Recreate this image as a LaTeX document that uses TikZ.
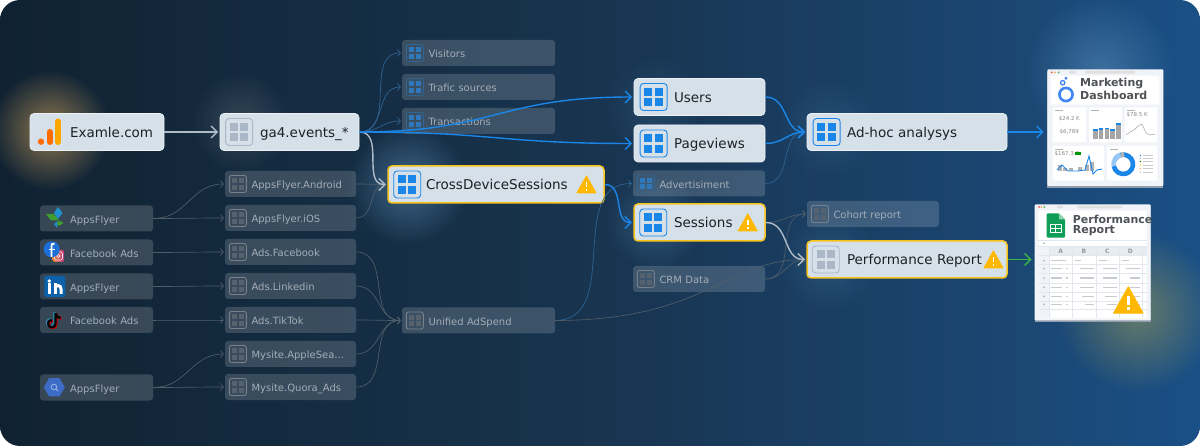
\documentclass[tikz,border=0pt]{standalone}
\usepackage{fontspec}
\setmainfont{DejaVu Sans}
\usetikzlibrary{arrows.meta,fadings}
\definecolor{bga}{HTML}{0A1118}
\definecolor{bgb}{HTML}{0D1C29}
\definecolor{bgc}{HTML}{13283B}
\definecolor{bgd}{HTML}{18344F}
\definecolor{bge}{HTML}{1B4672}
\definecolor{bgf}{HTML}{185A9A}
\definecolor{bgg}{HTML}{1466B2}
\definecolor{boxfill}{HTML}{D5E0E9}
\definecolor{boxedge}{HTML}{EDF2F6}
\definecolor{boxtext}{HTML}{1D2126}
\definecolor{warnedge}{HTML}{F6C21C}
\definecolor{warnfill}{HTML}{FFB800}
\definecolor{dimtext}{HTML}{A3ADB7}
\definecolor{flowblue}{HTML}{1A86E8}
\definecolor{flowlight}{HTML}{AEBBC9}
\definecolor{wiregray}{HTML}{505E6A}
\definecolor{wireblue}{HTML}{2F6594}
\definecolor{flowgreen}{HTML}{3DB54A}
\definecolor{gridgray}{HTML}{AAB7C6}
\definecolor{griddim}{HTML}{56626D}
\definecolor{griddimb}{HTML}{2F78BC}
\definecolor{glowamber}{HTML}{E0AE60}
\definecolor{glowblue}{HTML}{6FA8D8}
\definecolor{glowsky}{HTML}{7FB4E0}
\definecolor{glowyellow}{HTML}{D8C04A}
\definecolor{thumbbg}{HTML}{F0F3F7}
\definecolor{thumbedge}{HTML}{8F9CAB}
\definecolor{thumbtext}{HTML}{4F5256}
\definecolor{thumbbar}{HTML}{C9CBCE}
\definecolor{thumbhdr}{HTML}{E6ECF2}
\definecolor{thumbside}{HTML}{F0F4F8}
\definecolor{thumbline}{HTML}{E2E8EE}
\definecolor{logoblue}{HTML}{4285F4}
\definecolor{afblue}{HTML}{1F8FCF}
\definecolor{afgreen}{HTML}{3F9C2F}
\definecolor{fbblue}{HTML}{1C6FD6}
\definecolor{igpink}{HTML}{C13584}
\definecolor{igorange}{HTML}{E8873A}
\definecolor{liblue}{HTML}{0B62AA}
\definecolor{gqblue}{HTML}{3C6CC6}
\definecolor{gqlight}{HTML}{9DB9EA}
\definecolor{sheetgreen}{HTML}{0F9D58}
\definecolor{sheetfold}{HTML}{8ED1B1}
\pgfdeclarehorizontalshading{bgshade}{100bp}{color(0bp)=(bga); color(17bp)=(bgb); color(33bp)=(bgc); color(50bp)=(bgd); color(67bp)=(bge); color(83bp)=(bgf); color(100bp)=(bgg)}
\tikzfading[name=glowfade, inner color=transparent!0, outer color=transparent!100]
\tikzset{
	textbox/.style 2 args={text width=#1pt, execute at begin node={\hspace*{#2pt}}},
	bigbox/.style={rectangle, draw=boxedge, fill=boxfill, line width=.7pt, rounded corners=4pt, minimum height=37pt, inner xsep=0pt, inner ysep=0pt, align=left, font=\fontsize{13.5}{16}\selectfont, text=boxtext, text height=12pt, text depth=1.4pt, textbox={#1}{40}},
	warnbox/.style={bigbox=#1, draw=warnedge, line width=1.5pt},
	dimbox/.style={rectangle, fill=white, fill opacity=.16, text opacity=1, rounded corners=3pt, minimum height=26pt, inner xsep=0pt, inner ysep=0pt, align=left, font=\fontsize{10}{12}\selectfont, text=dimtext, text height=10.5pt, text depth=1pt},
	smallbox/.style={dimbox, textbox={#1}{26.5}},
	srcbox/.style={dimbox, textbox={#1}{30}},
	link/.style={out=0, in=180, looseness=1.1},
	wire/.style={draw=wiregray, line width=.65pt, -{Straight Barb[length=3pt,width=7pt]}, shorten >=1pt},
	wireb/.style={wire, draw=wireblue},
	flow/.style={draw=flowblue, line width=1.4pt, -{Straight Barb[length=6pt,width=12pt]}, shorten >=1.5pt},
	flowl/.style={flow, draw=flowlight},
	flowg/.style={flow, draw=flowgreen},
	glow/.style 2 args={fill=#1, fill opacity=#2, path fading=glowfade},
	thumb/.style={fill=white, rounded corners=1pt},
	thumbnum/.style={font=\fontsize{5.5}{6}\selectfont, text=gray!90},
	thumbhead/.style={font=\bfseries\fontsize{11}{12}\selectfont, text=thumbtext, anchor=west, inner sep=0pt},
	pics/gridicon/.style n args={3}{code={
		\draw[draw=#2, line width=.9pt, rounded corners=.25*#1] (-#1,-#1) rectangle (#1,#1);
		\foreach \sx/\sy in {1/1,1/-1,-1/1,-1/-1}
			\fill[#3] ({\sx*.09*#1},{\sy*.09*#1}) rectangle ({\sx*.68*#1},{\sy*.68*#1});
	}},
	pics/bluegrid/.style={gridicon={13.5}{flowblue}{flowblue}},
	pics/graygrid/.style={gridicon={13.5}{gridgray}{gridgray}},
	pics/dimblue/.style={gridicon={8.5}{wireblue}{griddimb}},
	pics/dimgray/.style={gridicon={8.5}{griddim!80}{griddim}},
	pics/warnicon/.style={code={
		\fill[warnfill, draw=warnfill, line width=1pt, line join=round] (0,-8.5) -- (9.5,8.5) -- (-9.5,8.5) -- cycle;
		\fill[white] (-.9,-2.5) rectangle (.9,3);
		\fill[white] (-.9,4.5) rectangle (.9,6.2);
	}},
}
\begin{document}
\begin{tikzpicture}[x=1pt, y=-1pt]
	\useasboundingbox (0,0) rectangle (1200,446);
	\shade[shading=bgshade, rounded corners=20pt] (0,0) rectangle (1200,446);

	% glows behind the boxes
	\fill[glow={glowamber}{.6}] (50,130) circle (60);
	\fill[glow={white}{.14}] (240,122) circle (50);
	\fill[glow={glowblue}{.45}] (408,185) circle (60);
	\fill[glow={glowblue}{.15}] (654,105) circle (50);
	\fill[glow={glowblue}{.28}] (654,222) circle (48);
	\fill[glow={glowblue}{.15}] (828,128) circle (50);
	\fill[glow={glowblue}{.18}] (828,262) circle (50);
	\fill[glow={glowsky}{.35}] (1100,70) circle (75);
	\fill[glow={glowyellow}{.4}] (1138,312) circle (80);

	% main nodes
	\node[bigbox=134] at (97, 132) (examle) {Examle.com};
	\node[bigbox=139] at (289.5, 132) (ga4) {ga4.events\_*};
	\node[bigbox=131] at (699.5, 97) (users) {Users};
	\node[bigbox=131] at (699.5, 143.5) (pageviews) {Pageviews};
	\node[bigbox=200] at (907, 132) (adhoc) {Ad-hoc analysys};
	\node[warnbox=216] at (496, 184.5) (cross) {\hspace*{-2pt}CrossDeviceSessions};
	\node[warnbox=131] at (699.5, 222.5) (sessions) {Sessions};
	\node[warnbox=200] at (907, 259.5) (perf) {Performance Report};

	% faded nodes
	\node[smallbox=153] at (478.5, 53) (visitors) {Visitors};
	\node[smallbox=153] at (478.5, 87) (trafic) {Trafic sources};
	\node[smallbox=153] at (478.5, 121) (transactions) {Transactions};
	\node[smallbox=131] at (290.5, 184) (android) {AppsFlyer.Android};
	\node[smallbox=131] at (290.5, 218) (ios) {AppsFlyer.iOS};
	\node[smallbox=131] at (290.5, 252) (adsfb) {Ads.Facebook};
	\node[smallbox=131] at (290.5, 286) (adsli) {Ads.Linkedin};
	\node[smallbox=131] at (290.5, 320) (adstt) {Ads.TikTok};
	\node[smallbox=131] at (290.5, 354) (apple) {Mysite.AppleSea...};
	\node[smallbox=131] at (290.5, 387) (quora) {Mysite.Quora\_Ads};
	\node[smallbox=153] at (478.5, 320.5) (unified) {Unified AdSpend};
	\node[smallbox=132] at (699, 183.5) (advert) {Advertisiment};
	\node[smallbox=132] at (699, 279) (crm) {CRM Data};
	\node[smallbox=132] at (873, 214) (cohort) {Cohort report};
	\node[srcbox=113] at (96.5, 218.5) (srcaf) {AppsFlyer};
	\node[srcbox=113] at (96.5, 252.5) (srcfb) {Facebook Ads};
	\node[srcbox=113] at (96.5, 286.5) (srcli) {AppsFlyer};
	\node[srcbox=113] at (96.5, 320) (srctt) {Facebook Ads};
	\node[srcbox=113] at (96.5, 387.5) (srcgq) {AppsFlyer};

	% table icons
	\pic at ([xshift=19.5pt]ga4.west) {graygrid};
	\pic at ([xshift=19.5pt]perf.west) {graygrid};
	\pic at ([xshift=20pt]users.west) {bluegrid};
	\pic at ([xshift=20pt]pageviews.west) {bluegrid};
	\pic at ([xshift=20pt]adhoc.west) {bluegrid};
	\pic at ([xshift=20pt]cross.west) {bluegrid};
	\pic at ([xshift=20pt]sessions.west) {bluegrid};
	\foreach \n in {visitors,trafic,transactions,advert}
		\pic at ([xshift=13pt]\n.west) {dimblue};
	\foreach \n in {android,ios,adsfb,adsli,adstt,apple,quora,unified,crm,cohort}
		\pic at ([xshift=13pt]\n.west) {dimgray};

	% warnings
	\pic at ([xshift=-18.3pt]cross.east) {warnicon};
	\pic at ([xshift=-18pt]sessions.east) {warnicon};
	\pic at ([xshift=-14.3pt]perf.east) {warnicon};

	% source logos
	\draw[line width=6pt, line cap=round, draw=orange!85!red] (49.7,132) -- (49.7,142);
	\draw[line width=6pt, line cap=round, draw=orange!70!yellow] (58,121.5) -- (58,142);
	\fill[orange!85!red] (41,141.7) circle (3.2);
	\fill[afblue] (58,207) -- (62.5,213) -- (58,219) -- (54,213) -- cycle;
	\fill[afgreen] (46,214) -- (54,214) -- (59,220.5) -- (51,220.5) -- cycle;
	\fill[afgreen] (59,220.5) -- (63.5,223) -- (59,226) -- (56,224) -- cycle;
	\fill[afblue] (57,221.5) -- (57,228) -- (54,224) -- cycle;
	\shade[left color=igorange, right color=igpink, rounded corners=2.5pt] (52.5,250) rectangle (64.5,262);
	\draw[white!85!igpink, line width=.7pt, rounded corners=1.5pt] (54.5,252) rectangle (62.5,260) (58.5,256) circle (1.6);
	\fill[fbblue] (51.7,249.3) circle (8);
	\draw[white, line width=1.8pt] (54.5,243.5) .. controls (51.5,243) and (51.5,245) .. (51.5,247) -- (51.5,257);
	\draw[white, line width=1.5pt] (49,249.5) -- (54.5,249.5);
	\fill[liblue, rounded corners=1.5pt] (44.3,276) rectangle (65.3,297);
	\fill[white] (47.5,283.5) rectangle (51,294);
	\fill[white] (49.3,281) circle (1.9);
	\fill[white] (53.5,283.5) rectangle (57,294);
	\draw[white, line width=3pt] (55,288.5) .. controls (56,284.5) and (61,284.5) .. (61,289) -- (61,294);
	\foreach \dx/\dy/\c in {-1/-.7/cyan!80!black,1/.7/red!80!black,0/0/black}
		\draw[\c, line width=2.4pt, shift={(\dx,\dy)}] (55.5,313) -- (55.5,323.5) .. controls (55.5,329) and (47.5,328) .. (48,323.5) .. controls (48.5,320) and (51,320) .. (52,320.5) (55.5,313.5) .. controls (56,316) and (58,318) .. (60.5,318);
	\fill[gqblue, shift={(54.3,387.3)}] (0:10.5) -- (60:10.5) -- (120:10.5) -- (180:10.5) -- (240:10.5) -- (300:10.5) -- cycle;
	\draw[gqlight, line width=.8pt] (54,387) circle (2.8) (56,389) -- (58,391);

	% dashboard preview
	\fill[thumbedge] (1047.3,72) rectangle (1163.3,188);
	\fill[thumbbg, rounded corners=1pt] (1047.3,69.3) rectangle (1163.3,186);
	\foreach \cx/\c in {1051.7/red!70, 1055/orange!70, 1058.7/green!60!black!70}
		\fill[\c] (\cx,72.3) circle (1);
	\fill[gray!25, rounded corners=1pt] (1069,71) rectangle (1076,73.6);
	\fill[gray!25, rounded corners=1pt] (1085,71) rectangle (1135,73.6);
	\fill[thumb] (1050.7,75.7) rectangle (1159.3,104.7);
	\draw[logoblue, line width=2.6pt] (1066,94.5) circle (6.6);
	\draw[logoblue, line width=1.3pt] (1062.7,82.7) circle (2.2);
	\fill[logoblue] (1066,78.3) circle (1.6);
	\node[thumbhead] at (1080,84) (dashtitlea) {Marketing};
	\node[thumbhead] at (1080,95.5) (dashtitleb) {Dashboard};
	\foreach \xa/\xb in {1052.7/1086, 1089/1122, 1124.7/1157.3}
		\fill[thumb] (\xa,107.3) rectangle (\xb,142.3);
	\foreach \xa/\xb in {1052.7/1104, 1107/1157.3}
		\fill[thumb] (\xa,146) rectangle (\xb,180.7);
	\foreach \xa/\xb/\yy in {1055/1063/110.5, 1091/1099/110.5, 1127/1135/110.5, 1055/1063/149, 1110/1118/149}
		\fill[gray!60] (\xa,\yy) rectangle (\xb,\yy+.7);
	\node[thumbnum] at (1069.3,118.7) (dashnuma) {\$24.2 K};
	\node[thumbnum] at (1069.3,132.3) (dashnumb) {\$6,789};
	\node[thumbnum, anchor=west, inner sep=0pt] at (1126.5,115) (dashnumc) {\$78.5 K};
	\node[thumbnum, anchor=west, inner sep=0pt] at (1054.5,153.5) (dashnumd) {\$167.3 K};
	\foreach \xa/\ytop in {1093.3/129, 1098.7/128.3, 1104.7/127.7, 1110.3/129, 1116/123.3}{
		\fill[gray!70] (\xa,\ytop) rectangle (\xa+4.7,139);
		\fill[flowblue] (\xa,\ytop) rectangle (\xa+4.7,\ytop+1.6);
	}
	\draw[gray!70, line width=.5pt] (1126,135) -- (1130,132) -- (1134,130) -- (1138,126) -- (1142,124) -- (1146,133) -- (1150,135) -- (1155,134);
	\foreach \xa/\ytop in {1058/165, 1063/168, 1069/168, 1078/167, 1085/165, 1090/162}
		\fill[gray!60] (\xa,\ytop) rectangle (\xa+4,171);
	\draw[flowblue, line width=.9pt] (1057,170) -- (1062,165) -- (1068,171) -- (1078,171) -- (1085,170) -- (1089,156) -- (1093,174) -- (1097,170) -- (1102,169);
	\fill[green!60!black] (1075,152.3) rectangle (1081,155);
	\draw[flowblue, line width=4.6pt] (1123.3,164.3) ++(-150:9.7) arc[start angle=-150, end angle=170, radius=9.7];
	\draw[flowblue!45!white, line width=4.6pt] (1123.3,164.3) ++(170:9.7) arc[start angle=170, end angle=255, radius=9.7];
	\draw[gray!60, line width=4.6pt] (1123.3,164.3) ++(255:9.7) arc[start angle=255, end angle=275, radius=9.7];
	\foreach \yy/\c in {155.5/flowblue, 158.5/flowblue!50!white, 161.5/green!60!black, 165/yellow!70!orange, 168.5/orange!70, 172/gray!50}{
		\fill[\c] (1140.3,\yy) circle (.8);
		\fill[gray!40] (1143,\yy-.3) rectangle (1153,\yy+.3);
	}

	% sheet preview
	\fill[thumbedge] (1034.7,206) rectangle (1150.7,322);
	\fill[thumbbg, rounded corners=1pt] (1034.7,204.3) rectangle (1150.7,320.5);
	\foreach \cx/\c in {1039/red!70, 1041.7/orange!70, 1044.3/green!60!black!70}
		\fill[\c] (\cx,207) circle (1);
	\fill[gray!25, rounded corners=1pt] (1056.7,206) rectangle (1063,208.4);
	\fill[gray!25, rounded corners=1pt] (1076.7,206) rectangle (1122,208.4);
	\fill[thumb] (1038.3,210.7) rectangle (1146.7,318.3);
	\fill[sheetgreen, rounded corners=1pt] (1046.7,213.3) -- (1059,213.3) -- (1065,219.5) -- (1065,237.7) -- (1046.7,237.7) -- cycle;
	\fill[sheetfold] (1059,213.3) -- (1065,219.5) -- (1059,219.5) -- cycle;
	\draw[white, line width=.7pt] (1050.5,224) rectangle (1061,232) (1050.5,228) -- (1061,228) (1055.5,224) -- (1055.5,232);
	\node[thumbhead] at (1072.7,219.3) (sheettitlea) {Performance};
	\node[thumbhead] at (1072.7,231) (sheettitleb) {Report};
	\fill[thumbhdr] (1049.3,246.7) rectangle (1146.7,255);
	\fill[thumbside] (1038.3,246.7) rectangle (1049.3,318.3);
	\foreach \cx/\t in {1060.7/A, 1084/B, 1107.3/C, 1130.3/D}
		\node[font=\bfseries\fontsize{6}{7}\selectfont, text=gray!80, inner sep=0pt] at (\cx,251) (col\t) {\t};
	\foreach \cx in {1049.3,1072.3,1095.7,1118.7,1142}
		\draw[thumbline, line width=.4pt] (\cx,246.7) -- (\cx,318.3);
	\foreach \yy in {240,246.7,255,264.3,273.7,283,292,301,309.3}
		\draw[thumbline, line width=.4pt] (1038.3,\yy) -- (1146.7,\yy);
	\foreach \yy in {243.3,260.7,268.7,278,287.3,296.3,304.3}
		\fill[gray!70] (1044,\yy) circle (.9);
	\fill[thumbbar] (1051,260) rectangle (1066,261.4);
	\fill[thumbbar] (1075.3,260) rectangle (1080.7,261.4);
	\fill[thumbbar] (1099.3,260) rectangle (1107.3,261.4);
	\fill[thumbbar] (1121.7,260) rectangle (1129.3,261.4);
	\foreach \yy/\bb/\cb/\db in {268/1080/1102.7/1126, 277.3/1080/1102.7/1130, 286.6/1080/1103/1130, 295.6/1082/1105/1130, 303.6/1085/1107/1130}{
		\fill[thumbbar] (1051,\yy) rectangle (1062,\yy+1.4);
		\fill[thumbbar] (1066,\yy) rectangle (1067.5,\yy+1.4);
		\fill[thumbbar] (\bb,\yy) rectangle (1094,\yy+1.4);
		\fill[thumbbar] (\cb,\yy) rectangle (1116.7,\yy+1.4);
		\fill[thumbbar] (\db,\yy) rectangle (1140,\yy+1.4);
	}
	\pic[scale=1.55] at (1128.3,300) {warnicon};

	% faded connectors
	\draw[wireb] (ga4.east) to[link] (visitors.west);
	\draw[wireb] (ga4.east) to[link] (trafic.west);
	\draw[wireb] (ga4.east) to[link] (transactions.west);
	\draw[wire] (srcaf.east) to[link] (android.west);
	\draw[wire] (srcaf.east) to[link] (ios.west);
	\draw[wire] (srcfb.east) to[link] (adsfb.west);
	\draw[wire] (srcli.east) to[link] (adsli.west);
	\draw[wire] (srctt.east) to[link] (adstt.west);
	\draw[wire] (srcgq.east) to[link] (apple.west);
	\draw[wire] (srcgq.east) to[link] (quora.west);
	\draw[wire] (android.east) to[link] (cross.west);
	\draw[wire] (ios.east) to[link] (cross.west);
	\draw[wire] (adsfb.east) to[link] (unified.west);
	\draw[wire] (adsli.east) to[link] (unified.west);
	\draw[wire] (adstt.east) to[link] (unified.west);
	\draw[wire] (apple.east) to[link] (unified.west);
	\draw[wire] (quora.east) to[link] (unified.west);
	\draw[wireb] (unified.east) to[link] (advert.west);
	\draw[wire] (unified.east) .. controls +(150,0) and +(-80,0) .. (perf.west);
	\draw[wireb] (advert.east) to[link] (adhoc.west);
	\draw[wire] (sessions.east) to[link] (cohort.west);
	\draw[wire] (crm.east) to[link] (cohort.west);
	\draw[wire] (crm.east) to[link] (perf.west);

	% main connectors
	\draw[flowl] (examle) -- (ga4);
	\draw[flowl] (ga4.east) to[link] (cross.west);
	\draw[flowl] (sessions.east) to[link] (perf.west);
	\draw[flow] (ga4.east) to[link, looseness=1.25] (users.west);
	\draw[flow] (ga4.east) to[link, looseness=1.25] (pageviews.west);
	\draw[flow] (cross.east) to[link] (sessions.west);
	\draw[flow] (users.east) to[link] (adhoc.west);
	\draw[flow] (pageviews.east) to[link] (adhoc.west);
	\coordinate (dashin) at (1045,132);
	\coordinate (sheetin) at (1033,259.5);
	\draw[flow] (adhoc.east) -- (dashin);
	\draw[flowg] (perf.east) -- (sheetin);
\end{tikzpicture}
\end{document}
